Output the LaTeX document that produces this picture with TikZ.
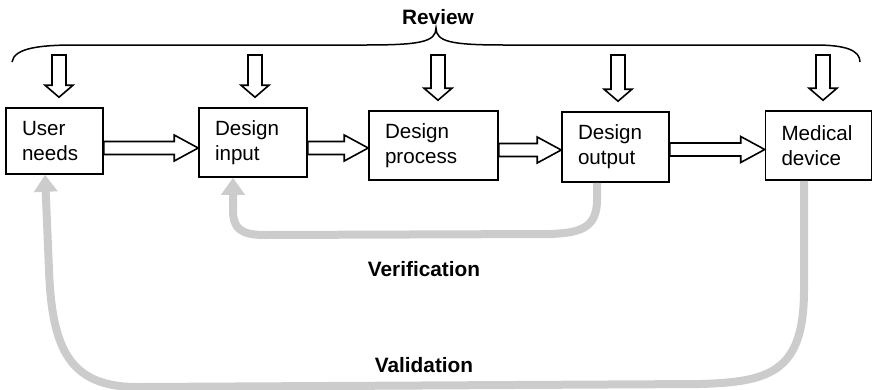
\documentclass[tikz,border=0pt]{standalone}
\usepackage{fontspec}
\setmainfont{Liberation Sans}
\usetikzlibrary{calc,arrows.meta}

\tikzset{
  stage/.style={draw, line width=1.6pt, inner xsep=16pt, inner ysep=0pt,
    align=left, font=\fontsize{20.6}{25}\selectfont},
  hollow/.style={draw, fill=white, line width=1.6pt, line join=miter},
  brace/.style={draw, line width=1.5pt},
  feedback/.style={draw=black!20, line width=8pt,
    -{Triangle[length=17pt, width=23pt]}},
  heading/.style={font=\fontsize{20.8}{24}\selectfont\bfseries}
}

% hollow block arrow between two stages, tip height #3
\newcommand\flowarrow[3]{%
  \path[hollow] let \p1=(#1.east), \p2=(#2.west) in
    (\x1,-#3pt+6.5pt) -- (\x2-24pt,-#3pt+6.5pt) -- (\x2-24pt,-#3pt+13pt)
    -- (\x2,-#3pt) -- (\x2-24pt,-#3pt-13pt) -- (\x2-24pt,-#3pt-6.5pt)
    -- (\x1,-#3pt-6.5pt) -- cycle;}

% hollow downward arrow from the review brace into stage #1 at x = #2
\newcommand\reviewarrow[2]{%
  \path[hollow] let \p1=(#1.north) in
    (#2pt-7pt,-55pt) -- (#2pt+7pt,-55pt) -- (#2pt+7pt,\y1+22pt)
    -- (#2pt+14pt,\y1+22pt) -- (#2pt,\y1+10pt) -- (#2pt-14pt,\y1+22pt)
    -- (#2pt-7pt,\y1+22pt) -- cycle;}

\begin{document}
\begin{tikzpicture}[x=1pt, y=-1pt]
  \useasboundingbox (0,0) rectangle (874,389);

  % stages
  \node[stage, text width=65pt, minimum height=66pt] (u) at (54.5,141) {User\\needs};
  \node[stage, text width=76pt, minimum height=69pt] (i) at (253,142.5) {Design\\input};
  \node[stage, text width=97pt, minimum height=69pt] (p) at (433.5,145.5) {Design\\process};
  \node[stage, text width=75pt, minimum height=70pt] (o) at (615.5,147) {Design\\output};
  \node[stage, text width=74pt, minimum height=69pt] (d) at (818.5,145.5) {Medical\\device};

  % forward flow
  \flowarrow{u}{i}{148}
  \flowarrow{i}{p}{148}
  \flowarrow{p}{o}{150}
  \flowarrow{o}{d}{149.5}

  % review brace and its arrows
  \node[heading] (rev) at (438,17) {Review};
  \path[brace] (12,62) .. controls (14,48) and (40,45) .. (75,45) -- (365,45)
    .. controls (420,45) and (436,42) .. (436,28)
    .. controls (436,42) and (452,45) .. (505,45) -- (815,45)
    .. controls (845,45) and (860,50) .. (860,62);
  \reviewarrow{u}{59}
  \reviewarrow{i}{255}
  \reviewarrow{p}{438}
  \reviewarrow{o}{618}
  \reviewarrow{d}{823}

  % verification loop
  \draw[feedback] (o.south -| 597,0) -- (597,200)
    .. controls (597,228) and (580,233) .. (550,234) -- (265,235)
    .. controls (240,235) and (233,228) .. (233,210) -- (i.south -| 233,0);
  \node[heading] (ver) at (424,269) {Verification};

  % validation loop
  \draw[feedback] (d.south -| 804,0) -- (804,290)
    .. controls (804,372) and (770,382) .. (700,384) -- (140,387)
    .. controls (70,388) and (52,350) .. (49,270) -- (u.south -| 45,0);
  \node[heading] (val) at (424,365) {Validation};
\end{tikzpicture}
\end{document}
